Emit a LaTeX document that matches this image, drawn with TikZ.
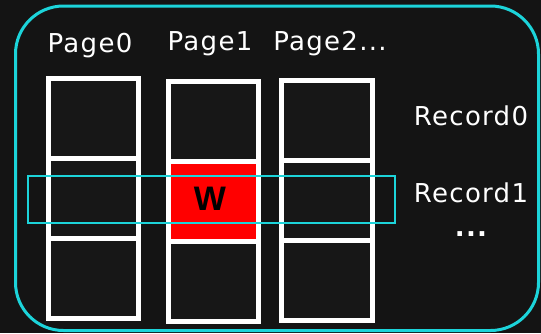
\documentclass[tikz,border=0pt]{standalone}
\usepackage{fontspec}
\setmainfont[LetterSpace=5]{DejaVu Sans}
\newfontfamily\wfont{Liberation Sans}
\definecolor{bg}{HTML}{141414}
\definecolor{cellbg}{HTML}{171717}
\definecolor{cyanline}{HTML}{1CD4DA}
\definecolor{wred}{HTML}{FF0000}
\begin{document}
\begin{tikzpicture}[x=1pt,y=-1pt,
  lbl/.style={text=white,font=\fontsize{26}{26}\selectfont,anchor=base,inner sep=0pt},
  cellbox/.style={draw=white,line width=5.5pt,fill=cellbg},
  redcell/.style={draw=white,line width=5.5pt,fill=wred},
  recbox/.style={draw=cyanline,line width=1.5pt},
  frame/.style={draw=cyanline,line width=3pt,rounded corners=48pt}]
\fill[bg] (0,0) rectangle (541,333);
\useasboundingbox (0,0) rectangle (541,333);
\draw[frame] (15.5,6) rectangle (538.5,330.5);
% Page0
\node[cellbox,minimum width=90pt,minimum height=80pt,anchor=north west,inner sep=0pt] (p0r0) at (45.5,75.5) {};
\node[cellbox,minimum width=90pt,minimum height=80pt,anchor=north west,inner sep=0pt] (p0r1) at (45.5,155.5) {};
\node[cellbox,minimum width=90pt,minimum height=80pt,anchor=north west,inner sep=0pt] (p0r2) at (45.5,235.5) {};
% Page1
\node[cellbox,minimum width=90pt,minimum height=80pt,anchor=north west,inner sep=0pt] (p1r0) at (165.5,78.5) {};
\node[redcell,minimum width=90pt,minimum height=80pt,anchor=north west,inner sep=0pt] (p1r1) at (165.5,158.5) {};
\node[cellbox,minimum width=90pt,minimum height=80pt,anchor=north west,inner sep=0pt] (p1r2) at (165.5,238.5) {};
% Page2
\node[cellbox,minimum width=91pt,minimum height=80pt,anchor=north west,inner sep=0pt] (p2r0) at (278.5,77.5) {};
\node[cellbox,minimum width=91pt,minimum height=80pt,anchor=north west,inner sep=0pt] (p2r1) at (278.5,157.5) {};
\node[cellbox,minimum width=91pt,minimum height=80pt,anchor=north west,inner sep=0pt] (p2r2) at (278.5,237.5) {};
\node[text=black,font=\wfont\bfseries\fontsize{34}{34}\selectfont,inner sep=0pt] (w) at (210,199) {W};
% Record row box
\node[recbox,minimum width=367pt,minimum height=47pt,anchor=north west,inner sep=0pt] (rec) at (27,175) {};
% labels
\node[lbl] (l0) at (90,52) {Page0};
\node[lbl] (l1) at (210,50) {Page1};
\node[lbl] (l2) at (330,50) {Page2...};
\node[lbl] (r0) at (471,125) {Record0};
\node[lbl] (r1) at (471,202) {Record1};
\node[lbl,font=\bfseries\fontsize{26}{26}\selectfont] (rd) at (471,236) {...};
\end{tikzpicture}
\end{document}
